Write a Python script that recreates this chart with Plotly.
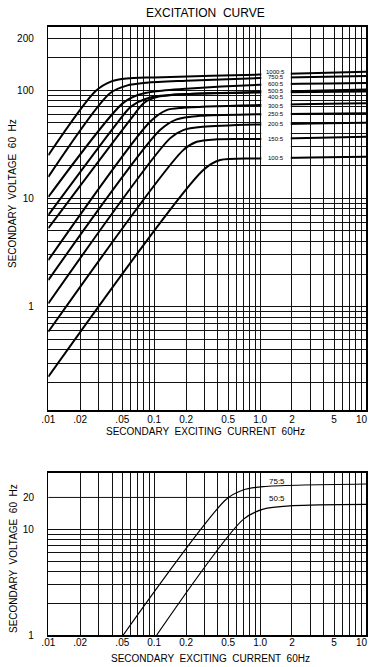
import math
import plotly.graph_objects as go

# ---------------- data ----------------
TITLE = "EXCITATION  CURVE"
X_TITLE = "SECONDARY  EXCITING  CURRENT  60Hz"
Y_TITLE = "SECONDARY  VOLTAGE  60  Hz"

# upper chart: CT ratios and curves (exciting current A, secondary volts)
RATIOS_TOP = ["1000:5", "750:5", "600:5", "500:5", "400:5",
              "300:5", "250:5", "200:5", "150:5", "100:5"]
I_1000 = [0.01, 0.028, 0.04, 0.055, 0.1, 1.0, 10]
V_1000 = [25, 98, 121, 128, 131, 139, 148]
I_750 = [0.01, 0.038, 0.055, 0.085, 0.2, 1.0, 10]
V_750 = [15.8, 93, 110, 117, 122, 129, 135]
I_600 = [0.01, 0.05, 0.07, 0.1, 0.2, 1.0, 10]
V_600 = [10.3, 75, 90, 97, 103, 112, 116]
I_500 = [0.01, 0.045, 0.06, 0.09, 0.2, 1.0, 10]
V_500 = [7.0, 50, 70, 85, 92, 96, 101]
I_400 = [0.01, 0.06, 0.08, 0.11, 0.2, 1.0, 10]
V_400 = [5.3, 54, 76, 87, 92, 95, 97]
I_300 = [0.01, 0.0915, 0.131, 0.188, 1.0, 10]
V_300 = [2.69, 51, 65.4, 68.7, 72.7, 75.4]
I_250 = [0.01, 0.1135, 0.163, 0.27, 1.0, 10]
V_250 = [1.76, 42.7, 53.7, 57.9, 59.9, 61.0]
I_200 = [0.01, 0.141, 0.188, 0.29, 1.0, 10]
V_200 = [1.07, 35.8, 42.7, 45.8, 48.2, 50]
I_150 = [0.01, 0.188, 0.252, 0.39, 1.0, 10]
V_150 = [0.586, 27.9, 33.3, 35.1, 35.3, 37.1]
I_100 = [0.01, 0.291, 0.42, 1.0, 10]
V_100 = [0.225, 18.3, 22.6, 23.4, 24.2]
CURVES_TOP = [(I_1000, V_1000), (I_750, V_750), (I_600, V_600), (I_500, V_500),
              (I_400, V_400), (I_300, V_300), (I_250, V_250), (I_200, V_200),
              (I_150, V_150), (I_100, V_100)]
LABEL_V_TOP = [147.6, 132.7, 113.6, 98.5, 86.7, 71.2, 60, 48.2, 35.2, 23.4]

# lower chart
RATIOS_BOT = ["75:5", "50:5"]
I_75 = [0.051, 0.48, 0.69, 1.07, 10]
V_75 = [1, 19.2, 23.5, 25.3, 26.8]
I_50 = [0.1057, 0.694, 1.07, 2.04, 10]
V_50 = [1, 12.4, 15.5, 16.7, 17.2]
CURVES_BOT = [(I_75, V_75), (I_50, V_50)]
LABEL_V_BOT = [28.5, 19.6]

# tick / grid values
X_GRID = [0.01, 0.02, 0.03, 0.04, 0.05, 0.06, 0.07, 0.08, 0.09,
          0.1, 0.2, 0.3, 0.4, 0.5, 0.6, 0.7, 0.8, 0.9,
          1, 2, 3, 4, 5, 6, 7, 8, 9, 10]
X_TEXT = [".01", ".02", "", "", ".05", "", "", "", "",
          "0.1", "0.2", "", "", "0.5", "", "", "", "",
          "1.0", "2", "", "", "5", "", "", "", "", ""]
X_END_TEXT = "10"   # label of the last (10 A) grid line, right-aligned at the edge
Y_GRID_TOP = [0.2, 0.3, 0.4, 0.5, 0.6, 0.7, 0.8, 0.9,
              1, 2, 3, 4, 5, 6, 7, 8, 9,
              10, 20, 30, 40, 50, 60, 70, 80, 90,
              100, 200, 300]
Y_TEXT_TOP = ["", "", "", "", "", "", "", "",
              "1", "", "", "", "", "", "", "", "",
              "10", "", "", "", "", "", "", "", "",
              "100", "", "200"]
Y_GRID_BOT = [1, 2, 3, 4, 5, 6, 7, 8, 9, 10]
Y_TEXT_BOT = ["1", "", "", "", "", "", "", "", "", "10"]
Y_EXTRA_BOT = 20
Y_EXTRA_BOT_TEXT = "20"

# ---------------- layout geometry ----------------
W, H = 370, 667
XDOM = [48.3 / W, 366 / W]
YDOM_TOP = [1 - 410 / H, 1 - 26.7 / H]
YDOM_BOT = [1 - 635 / H, 1 - 472.7 / H]
XR = [-2, 1]
YR_TOP = [math.log10(0.111), math.log10(385)]
YR_BOT = [0, 1.535]

FONT = "Liberation Sans, Arial, sans-serif"

fig = go.Figure()

for (ix, vy), name in zip(CURVES_TOP, RATIOS_TOP):
    fig.add_trace(go.Scatter(x=ix, y=vy, mode="lines", name=name,
                             line=dict(color="black", width=2, shape="spline", smoothing=0.8),
                             xaxis="x", yaxis="y", showlegend=False, hoverinfo="skip"))
for (ix, vy), name in zip(CURVES_BOT, RATIOS_BOT):
    fig.add_trace(go.Scatter(x=ix, y=vy, mode="lines", name=name,
                             line=dict(color="black", width=1.2, shape="spline", smoothing=0.8),
                             xaxis="x2", yaxis="y2", showlegend=False, hoverinfo="skip"))

axis_common = dict(type="log", showgrid=True, gridcolor="#111", gridwidth=1,
                   showline=True, linecolor="black", linewidth=1.5, mirror=True,
                   zeroline=False, ticks="", automargin=False,
                   tickfont=dict(family=FONT, size=10, color="black"))

fig.update_layout(
    width=W, height=H, autosize=False,
    margin=dict(l=0, r=0, t=0, b=0),
    paper_bgcolor="white", plot_bgcolor="white",
    xaxis=dict(domain=XDOM, range=XR, anchor="y", tickmode="array",
               tickvals=X_GRID, ticktext=X_TEXT, ticklabelstandoff=-1,
               ticklabeloverflow="allow", **axis_common),
    yaxis=dict(domain=YDOM_TOP, range=YR_TOP, anchor="x", tickmode="array",
               tickvals=Y_GRID_TOP, ticktext=Y_TEXT_TOP, ticklabelstandoff=11, **axis_common),
    xaxis2=dict(domain=XDOM, range=XR, anchor="y2", tickmode="array",
                tickvals=X_GRID, ticktext=X_TEXT, ticklabelstandoff=-3,
                ticklabeloverflow="allow", **axis_common),
    yaxis2=dict(domain=YDOM_BOT, range=YR_BOT, anchor="x2", tickmode="array",
                tickvals=Y_GRID_BOT, ticktext=Y_TEXT_BOT, ticklabelstandoff=11, **axis_common),
)


def py(val, dom, rng):
    return dom[0] + (math.log10(val) - rng[0]) / (rng[1] - rng[0]) * (dom[1] - dom[0])


def px_(val):
    return XDOM[0] + (math.log10(val) - XR[0]) / (XR[1] - XR[0]) * (XDOM[1] - XDOM[0])


shapes = []
# white band behind the ratio labels (between the 1.0 and 2 grid lines)
shapes.append(dict(type="rect", xref="paper", yref="paper", layer="above",
                   x0=px_(1) + 1.2 / W, x1=px_(2) - 1.2 / W,
                   y0=py(20.5, YDOM_TOP, YR_TOP), y1=py(165, YDOM_TOP, YR_TOP),
                   fillcolor="white", line=dict(width=0)))
# partial 20 V grid line in the lower chart
shapes.append(dict(type="line", xref="paper", yref="paper", layer="below",
                   x0=px_(0.01), x1=px_(1),
                   y0=py(Y_EXTRA_BOT, YDOM_BOT, YR_BOT), y1=py(Y_EXTRA_BOT, YDOM_BOT, YR_BOT),
                   line=dict(color="#111", width=1)))
fig.update_layout(shapes=shapes)

C = dict(xanchor="center", yanchor="middle", showarrow=False)
ann = []
ann.append(dict(text=TITLE, xref="paper", yref="paper", x=205 / W, y=1 - 13 / H,
                font=dict(family=FONT, size=12, color="black"), **C))
for yc, xc in [(431.5, 205.5), (658, 211)]:
    ann.append(dict(text=X_TITLE, xref="paper", yref="paper", x=xc / W, y=1 - yc / H,
                    font=dict(family=FONT, size=10, color="black"), **C))
for yc in [194, 559]:
    ann.append(dict(text=Y_TITLE, xref="paper", yref="paper", x=13 / W, y=1 - yc / H,
                    textangle=-90, font=dict(family=FONT, size=10, color="black"), **C))
for yc in [419.5, 642]:
    ann.append(dict(text=X_END_TEXT, xref="paper", yref="paper", x=369.5 / W, y=1 - yc / H,
                    xanchor="right", yanchor="middle", showarrow=False,
                    font=dict(family=FONT, size=10, color="black")))
for name, v in zip(RATIOS_TOP, LABEL_V_TOP):
    ann.append(dict(text=name, xref="x", yref="y", x=math.log10(1.41), y=math.log10(v),
                    font=dict(family=FONT, size=6, color="black"), **C))
for name, v in zip(RATIOS_BOT, LABEL_V_BOT):
    ann.append(dict(text=name, xref="x2", yref="y2", x=math.log10(1.45), y=math.log10(v),
                    font=dict(family=FONT, size=8, color="black"), **C))
ann.append(dict(text=Y_EXTRA_BOT_TEXT, xref="paper", yref="y2", x=37 / W,
                y=math.log10(Y_EXTRA_BOT), xanchor="right", yanchor="middle", showarrow=False,
                font=dict(family=FONT, size=10, color="black")))
fig.update_layout(annotations=ann)

fig.write_html("out.html", config={"displayModeBar": False, "staticPlot": True},
               post_script="document.body.style.margin='0';document.body.style.overflow='hidden';")
